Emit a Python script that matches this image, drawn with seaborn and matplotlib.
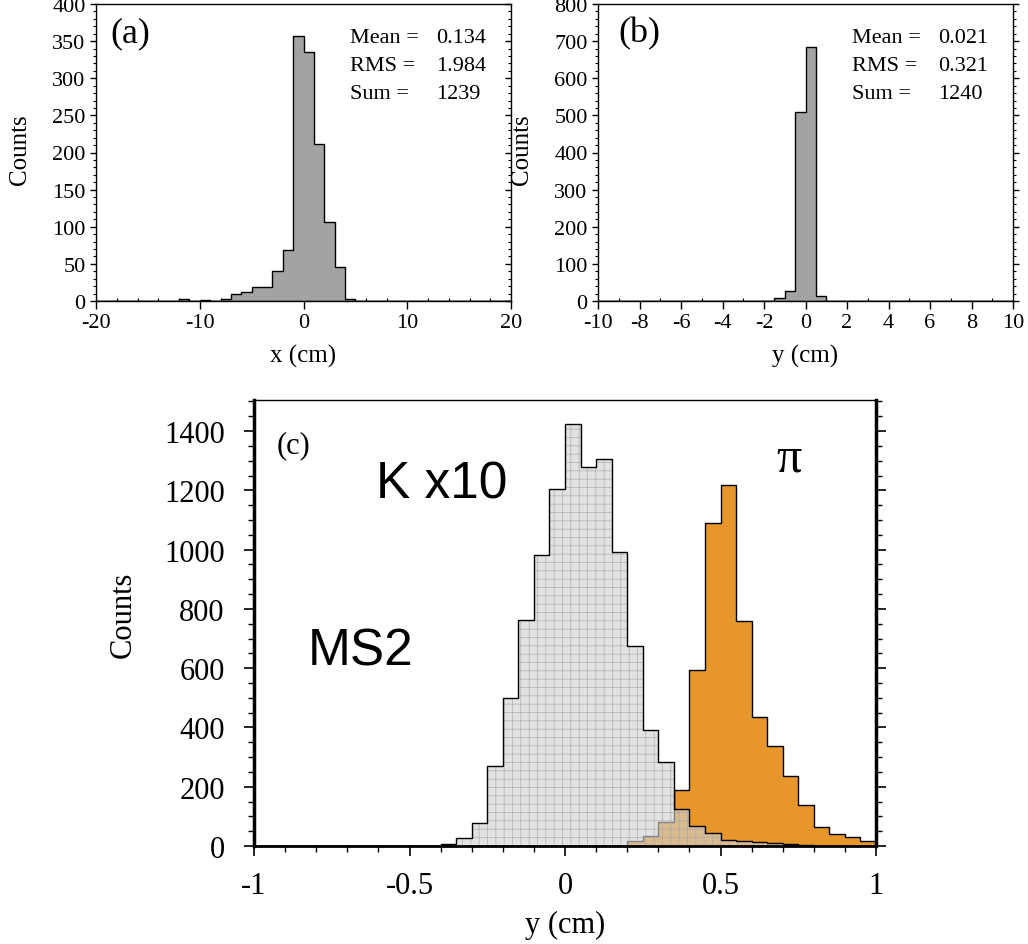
import numpy as np
import matplotlib
matplotlib.use("Agg")
import matplotlib.pyplot as plt
from matplotlib.ticker import MultipleLocator
import seaborn as sns

# ---------------- data ----------------
# panel (a): x distribution, 1 cm bins
a_bins = list(np.arange(-20, 21, 1.0))
a_x = [-11.5, -9.5, -7.5, -6.5, -5.5, -4.5, -3.5, -2.5, -1.5, -0.5, 0.5, 1.5, 2.5, 3.5, 4.5]
a_counts = [3, 1, 3, 9, 12, 19, 19, 41, 69, 357, 335, 212, 106, 46, 3]
a_stats = ["0.134", "1.984", "1239"]

# panel (b): y distribution, 0.5 cm bins
b_bins = list(np.arange(-10, 10.01, 0.5))
b_x = [-1.25, -0.75, -0.25, 0.25, 0.75]
b_counts = [7, 28, 508, 683, 14]
b_stats = ["0.021", "0.321", "1240"]

# panel (c): MS2 y distribution, 0.05 cm bins
c_bins = list(np.linspace(-1, 1, 41))
k_x = [-0.375, -0.325, -0.275, -0.225, -0.175, -0.125, -0.075, -0.025, 0.025, 0.075,
       0.125, 0.175, 0.225, 0.275, 0.325, 0.375, 0.425, 0.475, 0.525, 0.575,
       0.625, 0.675, 0.725, 0.775]
k_counts = [7, 28, 79, 270, 501, 764, 981, 1203, 1424, 1278,
            1305, 992, 674, 393, 284, 126, 66, 45, 19, 16,
            12, 9, 6, 3]
pi_x = [0.225, 0.275, 0.325, 0.375, 0.425, 0.475, 0.525, 0.575, 0.625, 0.675,
        0.725, 0.775, 0.825, 0.875, 0.925, 0.975]
pi_counts = [16, 33, 80, 188, 593, 1091, 1218, 759, 434, 336,
             235, 139, 64, 41, 29, 16]

stat_names = ["Mean =", "RMS =", "Sum ="]

# ---------------- style ----------------
sns.set_style("ticks")
plt.rcParams["font.family"] = ["Liberation Serif", "DejaVu Serif"]
plt.rcParams["hatch.linewidth"] = 0.6
plt.rcParams["axes.unicode_minus"] = False
for key in ["text.color", "axes.labelcolor", "xtick.color", "ytick.color", "axes.edgecolor"]:
    plt.rcParams[key] = "black"
SANS = ["Liberation Sans", "DejaVu Sans"]

fig = plt.figure(figsize=(10.28, 9.45), dpi=100)
ax_a = fig.add_axes([96 / 1028, 1 - 302 / 945, 415 / 1028, 297 / 945])
ax_b = fig.add_axes([598 / 1028, 1 - 302 / 945, 415 / 1028, 297 / 945])
ax_c = fig.add_axes([254 / 1028, 1 - 847 / 945, 622 / 1028, 446 / 945])

grey_a = "#a3a3a3"
orange = "#e6962a"


def small_panel(ax, x, counts, bins, xlim, ylim, xmaj, xmin, ymaj, ymin, xlabel, tag, tag_x,
                stats, right_dir):
    sns.histplot(x=x, weights=counts, bins=bins, element="step", fill=True,
                 facecolor=grey_a, edgecolor="black", linewidth=1.0, alpha=1, ax=ax)
    ax.set_xlim(*xlim)
    ax.set_ylim(*ylim)
    ax.xaxis.set_major_locator(MultipleLocator(xmaj))
    ax.xaxis.set_minor_locator(MultipleLocator(xmin))
    ax.yaxis.set_major_locator(MultipleLocator(ymaj))
    ax.yaxis.set_minor_locator(MultipleLocator(ymin))
    ax.tick_params(axis="y", which="major", direction="out", length=4.5, width=1,
                   labelsize=16, pad=3)
    ax.tick_params(axis="y", which="minor", direction="out", length=2.5, width=0.8)
    ax.tick_params(axis="x", which="major", direction="out", length=5.5, width=1,
                   labelsize=16, pad=3)
    ax.tick_params(axis="x", which="minor", direction="in", length=2.5, width=0.8)
    for s in ax.spines.values():
        s.set_visible(True)
        s.set_linewidth(1.0)
        s.set_color("black")
    # right-side ticks
    tw = ax.twinx()
    tw.set_ylim(*ylim)
    tw.yaxis.set_major_locator(MultipleLocator(ymaj))
    tw.yaxis.set_minor_locator(MultipleLocator(ymin))
    tw.tick_params(axis="y", which="major", direction=right_dir, length=4.5, width=1,
                   labelright=False)
    tw.tick_params(axis="y", which="minor", direction=right_dir, length=2.5, width=0.8)
    for s in tw.spines.values():
        s.set_visible(False)
    ax.set_xlabel(xlabel, fontsize=18, va="center")
    ax.xaxis.set_label_coords(0.5, -0.183)
    ax.set_ylabel("Counts", fontsize=18, va="center")
    ax.yaxis.set_label_coords(-0.183, 0.512)
    ax.text(tag_x, 0.902, tag, transform=ax.transAxes, fontsize=26, ha="left", va="center")
    for i, (nm, val) in enumerate(zip(stat_names, stats)):
        yy = 0.872 - i * 0.094
        ax.text(0.612, yy, nm, transform=ax.transAxes, fontsize=16, ha="left", va="baseline")
        ax.text(0.82, yy, val, transform=ax.transAxes, fontsize=16, ha="left", va="baseline")


small_panel(ax_a, a_x, a_counts, a_bins, (-20, 20), (0, 400), 10, 2, 50, 10,
            "x (cm)", "(a)", 0.035, a_stats, "in")
small_panel(ax_b, b_x, b_counts, b_bins, (-10, 10), (0, 800), 2, 1, 100, 20,
            "y (cm)", "(b)", 0.05, b_stats, "out")

# ---------------- panel (c) ----------------
ax = ax_c
sns.histplot(x=pi_x, weights=pi_counts, bins=c_bins, element="step", fill=True,
             facecolor=orange, edgecolor="black", linewidth=1.0, alpha=1, ax=ax)
sns.histplot(x=k_x, weights=k_counts, bins=c_bins, element="step", fill=True,
             facecolor=(0.82, 0.82, 0.82, 0.62), edgecolor=(0.66, 0.66, 0.66, 0.75),
             linewidth=0, hatch="++", ax=ax)
sns.histplot(x=k_x, weights=k_counts, bins=c_bins, element="step", fill=False,
             color="black", linewidth=1.0, ax=ax)
ax.set_xlim(-1, 1)
ax.set_ylim(0, 1505)
ax.xaxis.set_major_locator(MultipleLocator(0.5))
ax.xaxis.set_minor_locator(MultipleLocator(0.1))
ax.yaxis.set_major_locator(MultipleLocator(200))
ax.yaxis.set_minor_locator(MultipleLocator(50))
ax.set_xticks([-1, -0.5, 0, 0.5, 1])
ax.set_xticklabels(["-1", "-0.5", "0", "0.5", "1"])
ax.tick_params(axis="both", which="major", direction="out", length=7, width=1.2,
               labelsize=22)
ax.tick_params(axis="y", which="major", pad=14)
ax.tick_params(axis="x", which="major", pad=11)
ax.tick_params(axis="both", which="minor", direction="out", length=4, width=1)
ax.tick_params(axis="y", which="both", right=True)
for name, s in ax.spines.items():
    s.set_visible(True)
    s.set_color("black")
ax.spines["left"].set_linewidth(2.5)
ax.spines["right"].set_linewidth(2.5)
ax.spines["bottom"].set_linewidth(2.0)
ax.spines["top"].set_linewidth(1.0)
ax.set_xlabel("y (cm)", fontsize=22, va="center")
ax.xaxis.set_label_coords(0.5, -0.175)
ax.set_ylabel("Counts", fontsize=22, va="center")
ax.yaxis.set_label_coords(-0.211, 0.52)
ax.text(0.037, 0.899, "(c)", transform=ax.transAxes, fontsize=22, ha="left", va="center")
ax.text(0.196, 0.812, "K x10", transform=ax.transAxes, fontsize=37, ha="left", va="center",
        family=SANS)
ax.text(0.087, 0.437, "MS2", transform=ax.transAxes, fontsize=37, ha="left", va="center",
        family=SANS)
ax.text(0.86, 0.87, "π", transform=ax.transAxes, fontsize=36, ha="center", va="center")

fig.savefig("out.png", dpi=100)
